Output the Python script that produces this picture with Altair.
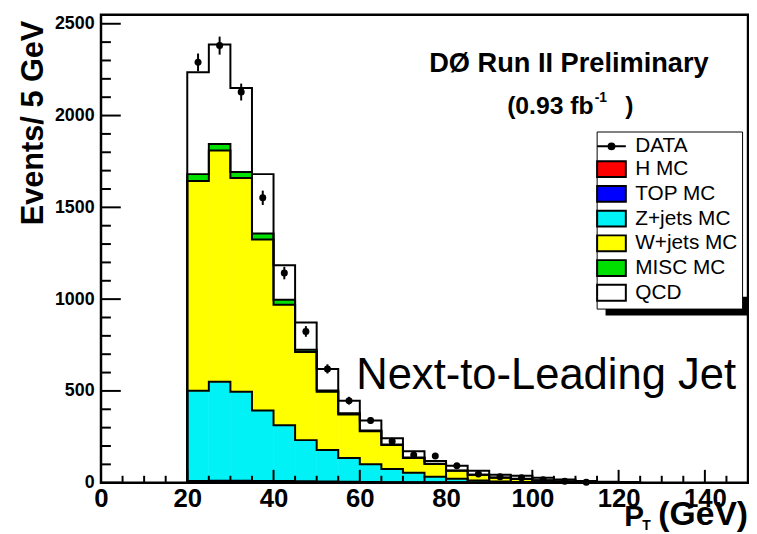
import altair as alt
import pandas as pd

# ---------------- data ----------------
bin_low = [20, 25, 30, 35, 40, 45, 50, 55, 60, 65, 70, 75, 80, 85, 90, 95, 100, 105, 110, 115, 120]
bin_width = 5

h_mc      = [1, 1, 1, 1, 1, 1, 0, 0, 0, 0, 0, 0, 0, 0, 0, 0, 0, 0, 0, 0, 0]
top_mc    = [8, 10, 10, 9, 8, 7, 6, 5, 4, 3, 3, 2, 2, 1, 1, 1, 0, 0, 0, 0, 0]
zjets_mc  = [492, 539, 485, 383, 304, 224, 172, 130, 96, 72, 51, 30, 20, 11, 5, 3, 2, 1, 0, 0, 0]
wjets_mc  = [1142, 1260, 1164, 932, 657, 480, 317, 237, 180, 130, 81, 70, 43, 31, 21, 16, 10, 6, 4, 2, 1]
misc_mc   = [38, 35, 32, 33, 27, 12, 8, 6, 4, 3, 3, 2, 1, 1, 1, 1, 1, 0.5, 0.5, 0, 0]
qcd       = [555, 542, 458, 323, 188, 149, 117, 69, 55, 34, 34, 14, 26, 21, 15, 17, 14, 10.5, 5.5, 3, 1]

data_low  = [20, 25, 30, 35, 40, 45, 50, 55, 60, 65, 70, 75, 80, 85, 90, 95, 100, 105, 110]
data_vals = [2290, 2381, 2128, 1552, 1142, 824, 620, 447, 339, 226, 151, 145, 92, 48, 32, 27, 16, 8, 3]
data_err  = [48, 49, 46, 39, 34, 29, 25, 21, 18, 15, 12, 12, 10, 7, 6, 5, 4, 3, 2]

series_names  = ["H MC", "TOP MC", "Z+jets MC", "W+jets MC", "MISC MC", "QCD"]
series_colors = ["#FF0000", "#0000FF", "#00F2F7", "#FFFF00", "#00E000", "#FFFFFF"]
legend_labels = ["DATA"] + series_names
legend_colors = ["#000000"] + series_colors

y_major = [0, 500, 1000, 1500, 2000, 2500]
y_minor = list(range(0, 2501, 100))
x_major = [0, 20, 40, 60, 80, 100, 120, 140]
x_minor = list(range(0, 150, 5))

# ---------------- tables ----------------
W, H = 654, 473
X_MAX, Y_MAX = 150, 2549

def px_x(p):
    return p * X_MAX / W
def px_y(p):
    return p * Y_MAX / H

series_vals = [h_mc, top_mc, zjets_mc, wjets_mc, misc_mc, qcd]
rect_rows, line_rows = [], []
cum = [0.0] * len(bin_low)
for k, (name, vals) in enumerate(zip(series_names, series_vals)):
    tops = []
    for i, lo in enumerate(bin_low):
        base = cum[i]
        top = base + vals[i]
        if vals[i] > 0:
            rect_rows.append({"x": lo, "x2": lo + bin_width, "y": base, "y2": top,
                              "color": series_colors[k]})
        tops.append(top)
        cum[i] = top
    idx = 0
    line_rows.append({"s": name, "i": idx, "x": bin_low[0], "y": 0}); idx += 1
    for i, lo in enumerate(bin_low):
        line_rows.append({"s": name, "i": idx, "x": lo, "y": tops[i]}); idx += 1
        line_rows.append({"s": name, "i": idx, "x": lo + bin_width, "y": tops[i]}); idx += 1
    line_rows.append({"s": name, "i": idx, "x": bin_low[-1] + bin_width, "y": 0})

# inward ROOT-style tick segments (pixel lengths converted to data units)
for v in y_minor:
    L = 20 if v in y_major else 10
    line_rows.append({"s": f"ty{v}", "i": 0, "x": 0, "y": v})
    line_rows.append({"s": f"ty{v}", "i": 1, "x": px_x(L), "y": v})
for v in x_minor:
    L = 13 if v in x_major else 7
    line_rows.append({"s": f"tx{v}", "i": 0, "x": v, "y": 0})
    line_rows.append({"s": f"tx{v}", "i": 1, "x": v, "y": px_y(L)})

rects = pd.DataFrame(rect_rows)
lines = pd.DataFrame(line_rows)
pts = pd.DataFrame({"x": [v + bin_width / 2 for v in data_low], "v": data_vals,
                    "lo": [v - e for v, e in zip(data_vals, data_err)],
                    "hi": [v + e for v, e in zip(data_vals, data_err)]})
leg = pd.DataFrame({"series": legend_labels, "x": [-50] * len(legend_labels), "y": [0] * len(legend_labels)})

xs = alt.Scale(domain=[0, X_MAX], nice=False, zero=False)
ys = alt.Scale(domain=[0, Y_MAX], nice=False, zero=False)
FONT = "Liberation Sans"

x_axis = alt.Axis(orient="bottom", values=x_major, ticks=False, tickSize=0, domain=False,
                  labelFont=FONT, labelFontSize=26, labelFontWeight="bold", labelColor="black",
                  labelPadding=3, labelFlush=False, format="d", grid=False, title=None, zindex=2)
y_axis = alt.Axis(orient="left", values=y_major, ticks=False, tickSize=0, domain=False,
                  labelFont=FONT, labelFontSize=18, labelFontWeight="bold", labelColor="black",
                  labelPadding=7, labelFlush=False, format="d", grid=False, title=None, zindex=2)

fills = alt.Chart(rects).mark_rect(strokeWidth=0.6).encode(
    x=alt.X("x:Q", scale=xs, axis=x_axis), x2="x2:Q",
    y=alt.Y("y:Q", scale=ys, axis=y_axis), y2="y2:Q",
    fill=alt.Fill("color:N", scale=None), stroke=alt.Stroke("color:N", scale=None))

outlines = alt.Chart(lines).mark_line(color="black", strokeWidth=2, interpolate="linear").encode(
    x=alt.X("x:Q", scale=xs), y=alt.Y("y:Q", scale=ys), detail="s:N", order="i:Q")

errbars = alt.Chart(pts).mark_rule(color="black", strokeWidth=2).encode(
    x=alt.X("x:Q", scale=xs), y=alt.Y("lo:Q", scale=ys), y2="hi:Q")
dots = alt.Chart(pts).mark_circle(color="black", opacity=1, size=50).encode(
    x=alt.X("x:Q", scale=xs), y=alt.Y("v:Q", scale=ys))

frame = alt.Chart(pd.DataFrame({"a": [0]})).mark_rect(
    fill=None, stroke="black", strokeWidth=2.5, fillOpacity=0).encode(
    x=alt.value(0), x2=alt.value(W), y=alt.value(0), y2=alt.value(H))

rect_path = "M-1.45,-0.8H1.45V0.8H-1.45Z"
data_path = "M-1.45,0H1.45M-0.3,0A0.3,0.3,0,1,1,0.3,0A0.3,0.3,0,1,1,-0.3,0Z"

legend_layer = alt.Chart(leg).mark_point(filled=True, clip=True, opacity=1, strokeWidth=2).encode(
    x=alt.X("x:Q", scale=xs), y=alt.Y("y:Q", scale=ys),
    fill=alt.Fill("series:N", scale=alt.Scale(domain=legend_labels, range=legend_colors),
                  legend=alt.Legend(title=None, orient="none", legendX=501, legendY=118,
                                    labelFont=FONT, labelFontSize=21, labelColor="black",
                                    symbolSize=400, symbolStrokeColor="black", symbolStrokeWidth=2,
                                    symbolOpacity=1, strokeColor="black", fillColor="white",
                                    padding=4, rowPadding=1.0, labelOffset=13, labelLimit=300)),
    stroke=alt.Stroke("series:N", scale=alt.Scale(domain=legend_labels, range=["#000000"] * 7)),
    shape=alt.Shape("series:N", scale=alt.Scale(domain=legend_labels,
                                                range=[data_path] + [rect_path] * 6)))

shadow = alt.Chart(pd.DataFrame({"a": [0]})).mark_rect(color="black").encode(
    x=alt.value(510), x2=alt.value(662), y=alt.value(285), y2=alt.value(304))

def txt(s, x, y, size, weight="bold", align="left", angle=0):
    return alt.Chart(pd.DataFrame({"t": [s]})).mark_text(
        font=FONT, fontSize=size, fontWeight=weight, align=align, baseline="alphabetic",
        angle=angle, color="black").encode(x=alt.value(x), y=alt.value(y), text="t:N")

texts = [
    txt("DØ Run II Preliminary", 473, 58, 27.5, align="center"),
    txt("(0.93 fb", 498, 100, 25, align="right"),
    txt("-1", 499, 88, 14),
    txt(")", 530, 100, 25),
    txt("Next-to-Leading Jet", 258, 378, 44, weight="normal"),
    txt("Events/ 5 GeV", -59, 6, 31, align="right", angle=270),
    txt("P", 529, 517, 30),
    txt("T", 547, 521, 14),
    txt("(GeV)", 654, 516, 34, align="right"),
]

chart = alt.layer(
    fills, outlines, errbars, dots, frame, shadow, legend_layer, *texts
).properties(
    width=W, height=H,
    autosize=alt.AutoSizeParams(type="none"),
    padding={"left": 94, "top": 4, "right": 1, "bottom": 49},
).configure_view(stroke=None).configure(background="white")

chart.save("out.html", embed_options={"renderer": "svg", "actions": False})
